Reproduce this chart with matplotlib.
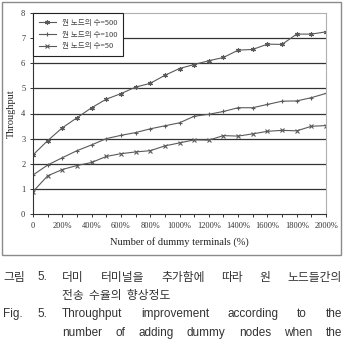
import matplotlib
matplotlib.use('Agg')
import matplotlib.pyplot as plt
from matplotlib.patches import Rectangle

W, H = 347, 344

dummy_pct = [0, 100, 200, 300, 400, 500, 600, 700, 800, 900, 1000,
             1100, 1200, 1300, 1400, 1500, 1600, 1700, 1800, 1900, 2000]
tp_500 = [2.35, 2.92, 3.43, 3.83, 4.23, 4.57, 4.79, 5.05, 5.20, 5.52, 5.79,
          5.95, 6.10, 6.23, 6.52, 6.55, 6.76, 6.75, 7.16, 7.16, 7.25]
tp_100 = [1.55, 1.95, 2.24, 2.52, 2.75, 3.00, 3.13, 3.24, 3.39, 3.51, 3.63,
          3.89, 3.97, 4.08, 4.23, 4.23, 4.36, 4.49, 4.50, 4.63, 4.80]
tp_50 = [0.89, 1.52, 1.77, 1.93, 2.05, 2.29, 2.40, 2.47, 2.52, 2.71, 2.83,
         2.95, 2.94, 3.12, 3.10, 3.19, 3.29, 3.33, 3.31, 3.49, 3.52]
series_labels = ['원 노드의 수=500', '원 노드의 수=100', '원 노드의 수=50']
x_tick_labels = ['0', '200%', '400%', '600%', '800%', '1000%', '1200%',
                 '1400%', '1600%', '1800%', '2000%']

caption_kr_1 = ['더미', '터미널을', '추가함에', '따라', '원', '노드들간의']
caption_kr_2 = '전송 수율의 향상정도'
caption_en_1 = ['Throughput', 'improvement', 'according', 'to', 'the']
caption_en_2 = ['number', 'of', 'adding', 'dummy', 'nodes', 'when', 'the']

serif = ['Liberation Serif', 'DejaVu Serif']
kr = ['Noto Sans CJK KR', 'DejaVu Sans']
en = ['Liberation Sans', 'DejaVu Sans']

fig = plt.figure(figsize=(W / 100, H / 100), dpi=100)
fig.patch.set_facecolor('white')

# outer chart frame
fig.patches.append(Rectangle((2 / W, 1 - 255 / H), 339 / W, 253 / H,
                             transform=fig.transFigure, fill=False,
                             edgecolor='#8a8a8a', linewidth=1.0))

ax = fig.add_axes([33 / W, 1 - 214 / H, 293 / W, 201 / H])
line_kw = dict(color='#5a5a5a', linewidth=0.8, markersize=3.5,
               markeredgewidth=0.8)
ax.plot(dummy_pct, tp_500, marker=(6, 2, 0), label=series_labels[0], **line_kw)
ax.plot(dummy_pct, tp_100, marker='+', label=series_labels[1], **line_kw)
ax.plot(dummy_pct, tp_50, marker='x', label=series_labels[2], **line_kw)

ax.set_xlim(0, 2000)
ax.set_ylim(0, 8)
ax.set_xticks(dummy_pct)
ax.set_xticklabels([x_tick_labels[i // 2] if i % 2 == 0 else ''
                    for i in range(len(dummy_pct))])
ax.set_yticks(range(0, 9))
ax.tick_params(axis='both', direction='out', length=2.5, width=0.7,
               colors='#333333', labelsize=6, pad=3)
for lab in ax.get_xticklabels() + ax.get_yticklabels():
    lab.set_family(serif)

for y in range(1, 8):
    ax.axhline(y, color='#333333', linewidth=0.9, zorder=0)
ax.spines['top'].set_color('#b0b0b0')
ax.spines['right'].set_color('#b0b0b0')
ax.spines['left'].set_color('#333333')
ax.spines['bottom'].set_color('#333333')
for s in ax.spines.values():
    s.set_linewidth(0.8)

ax.set_xlabel('Number of dummy terminals (%)', family=serif, fontsize=7.5,
              color='#222222', labelpad=5)
ax.set_ylabel('Throughput', family=serif, fontsize=7.5, color='#222222')
ax.yaxis.set_label_coords(-0.058, 0.5)

leg = ax.legend(loc='upper left', bbox_to_anchor=(0.0, 1.0), borderaxespad=0,
                fancybox=False, framealpha=1, edgecolor='#222222',
                prop={'family': kr, 'size': 5.5}, handlelength=2.2,
                handletextpad=0.8, borderpad=0.75, labelspacing=0.5)
leg.get_frame().set_linewidth(0.8)
for t in leg.get_texts():
    t.set_color('#444444')

# caption below the chart, justified like the paper
fig.canvas.draw()
renderer = fig.canvas.get_renderer()


def put(x, y, s, family, size=8.5, ha='left'):
    return fig.text(x / W, 1 - y / H, s, family=family, fontsize=size,
                    color='#333333', ha=ha, va='center')


def justify(words, y, x0, x1, family):
    texts = [put(0, y, w, family) for w in words]
    widths = [t.get_window_extent(renderer).width for t in texts]
    gap = (x1 - x0 - sum(widths)) / (len(words) - 1)
    x = x0
    for t, w in zip(texts, widths):
        t.set_x(x / W)
        x += w + gap


put(3, 277, '그림', kr)
put(37, 277, '5.', en)
justify(caption_kr_1, 277, 62, 342, kr)
put(62, 296, caption_kr_2.replace(' ', '  '), kr)
put(3, 314, 'Fig.', en)
put(37, 314, '5.', en)
justify(caption_en_1, 314, 62, 342, en)
justify(caption_en_2, 333, 62, 342, en)

fig.savefig('out.png', dpi=100)
